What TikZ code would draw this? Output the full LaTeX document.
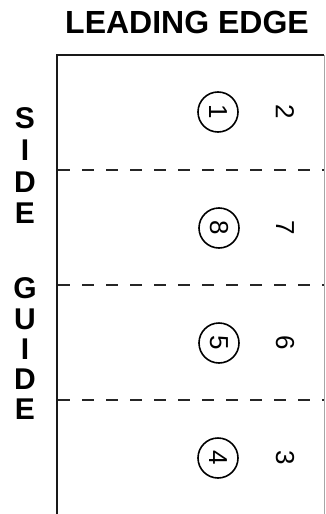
\documentclass[tikz,border=0pt]{standalone}
\usepackage{fontspec}
\setmainfont{Liberation Sans}

\begin{document}
\begin{tikzpicture}[x=1pt, y=-1pt,
  letter/.style={font=\fontsize{30}{30}\selectfont\bfseries, anchor=base},
  circled/.style={draw, line width=1.6pt, circle, minimum size=40pt, inner sep=0pt,
    font=\fontsize{26}{26}\selectfont, rotate=-90},
  digit/.style={font=\fontsize{26}{26}\selectfont, rotate=-90},
  cut/.style={line width=1.6pt, black!85, dash pattern=on 12pt off 12pt}]
  \useasboundingbox (0,0) rectangle (325,514);

  % corners of the sheet
  \coordinate (TL) at (57, 55);
  \coordinate (TR) at (324, 55);
  \coordinate (BL) at (57, 514);
  \coordinate (BR) at (324, 514);

  % fold lines
  \coordinate (F1L) at (58, 170);
  \coordinate (F1R) at (324, 170);
  \coordinate (F2L) at (58, 285);
  \coordinate (F2R) at (324, 285);
  \coordinate (F3L) at (58, 400);
  \coordinate (F3R) at (324, 400);

  % sheet outline
  \draw[gray!70, line width=0.8pt] (TR) -- (BR);
  \draw[line width=2pt, black!90] (BL) -- (TL) -- (TR);

  % dashed lines
  \draw[cut] (F1L) -- (F1R);
  \draw[cut] (F2L) -- (F2R);
  \draw[cut] (F3L) -- (F3R);

  % title
  \node[letter, font=\fontsize{32}{32}\selectfont\bfseries] (title) at (187, 33) {LEADING EDGE};

  % side label
  \node[letter] (s1) at (25, 128) {S};
  \node[letter] (s2) at (25, 160) {I};
  \node[letter] (s3) at (25, 192) {D};
  \node[letter] (s4) at (25, 223) {E};
  \node[letter] (g1) at (25, 298) {G};
  \node[letter] (g2) at (25, 329) {U};
  \node[letter] (g3) at (25, 359) {I};
  \node[letter] (g4) at (25, 389) {D};
  \node[letter] (g5) at (25, 419) {E};

  % page numbers, circled ones first
  \node[circled] (p1) at (218, 112) {1};
  \node[circled] (p8) at (219, 228) {8};
  \node[circled] (p5) at (219, 343) {5};
  \node[circled] (p4) at (218, 458) {4};

  \node[digit] (p2) at (285, 112) {2};
  \node[digit] (p7) at (285, 228) {7};
  \node[digit] (p6) at (285, 343) {6};
  \node[digit] (p3) at (285, 458) {3};

\end{tikzpicture}
\end{document}
